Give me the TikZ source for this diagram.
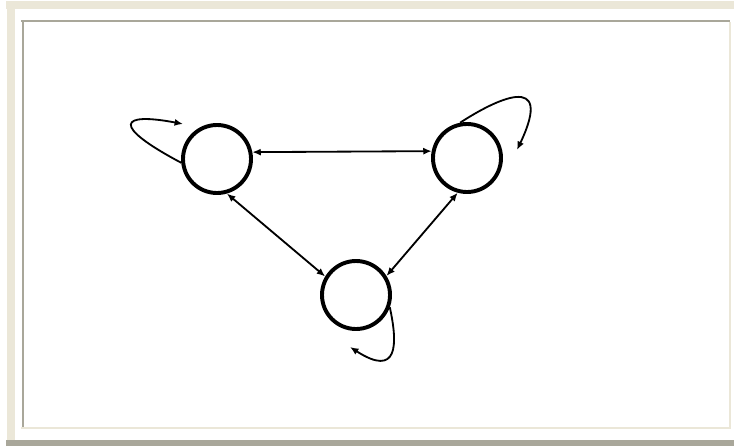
\documentclass[tikz,border=0pt]{standalone}
\usepackage{tikz}
\usetikzlibrary{arrows.meta}
\definecolor{framebeige}{HTML}{EBE7D8}
\definecolor{framegray}{HTML}{A9A79A}

\begin{document}
\begin{tikzpicture}[
  x=0.025cm, y=-0.025cm,
  state/.style={draw, circle, line width=2.8pt, minimum size=1.7cm, inner sep=0pt},
  link/.style={{Latex[length=6pt, width=5pt]}-{Latex[length=6pt, width=5pt]}, line width=1.3pt},
  selfloop/.style={-{Latex[length=6pt, width=5pt]}, line width=1.3pt}
]
\useasboundingbox (0,0) rectangle (734,446);

% frame
\fill[framebeige] (6,1) rectangle (734,9);
\fill[framebeige] (7,9) rectangle (15,440);
\fill[framegray] (21,20) rectangle (730,22);
\fill[framegray] (22,22) rectangle (24,427);
\fill[framebeige] (729,22) rectangle (731,429);
\fill[framebeige] (21,427) rectangle (731,429);
\fill[framegray] (6,440) rectangle (734,446);

\node[state] (left) at (217,159) {};
\node[state] (right) at (467,158) {};
\node[state] (bottom) at (356,295) {};

\draw[link] (left.11) -- (right.169);
\draw[link] (left.-74) -- (bottom.149);
\draw[link] (right.-105) -- (bottom.32);

% self loops
\coordinate (leftend) at (183,124);
\coordinate (rightend) at (517,150);
\coordinate (bottomend) at (350,347);
\draw[selfloop] (left.186) .. controls (110,125) and (120,112) .. (leftend);
\draw[selfloop] (right.101) .. controls (495,100) and (555,70) .. (rightend);
\draw[selfloop] (bottom.-20) .. controls (398,345) and (398,378) .. (bottomend);

\end{tikzpicture}
\end{document}
